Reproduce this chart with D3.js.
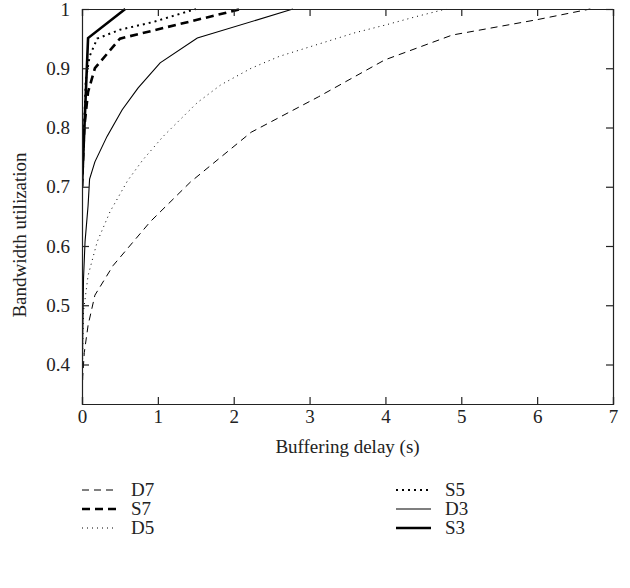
<!DOCTYPE html>
<html>
<head>
<meta charset="utf-8">
<script src="https://cdn.jsdelivr.net/npm/d3@7"></script>
<style>
  html, body { margin: 0; padding: 0; background: #fff; }
  svg { display: block; }
  text { font-family: "Liberation Serif", "DejaVu Serif", serif; fill: #222; }
</style>
</head>
<body>
<svg id="chart" width="630" height="588"></svg>
<script>
// Bandwidth utilization versus buffering delay, one curve per scheme.
const seriesNames = ["D7", "S7", "D5", "S5", "D3", "S3"];

const D7 = [[0, 0.3333], [0.01, 0.38], [0.03, 0.42], [0.08, 0.466], [0.17, 0.517], [0.41, 0.567],
            [0.9, 0.641], [1.43, 0.708], [2.23, 0.792], [3.12, 0.852], [3.99, 0.914],
            [4.88, 0.956], [6.0, 0.982], [6.7, 1.0]];
const S7 = [[0, 0.7], [0.03, 0.8], [0.08, 0.86], [0.17, 0.9], [0.5, 0.95], [2.1, 1.0]];
const D5 = [[0, 0.3333], [0.01, 0.43], [0.02, 0.49], [0.08, 0.55], [0.2, 0.607], [0.37, 0.658],
            [0.6, 0.71], [0.8, 0.745], [1.07, 0.785], [1.52, 0.842], [1.83, 0.872], [2.23, 0.9],
            [2.6, 0.92], [3.1, 0.94], [3.6, 0.96], [4.0, 0.973], [4.4, 0.987], [4.8, 1.0]];
const S5 = [[0, 0.7], [0.05, 0.88], [0.1, 0.92], [0.2, 0.95], [0.5, 0.965], [0.94, 0.978], [1.5, 1.0]];
const D3 = [[0, 0.3333], [0.01, 0.45], [0.02, 0.545], [0.04, 0.607], [0.08, 0.668], [0.1, 0.713],
            [0.17, 0.742], [0.33, 0.785], [0.53, 0.83], [0.74, 0.867], [1.03, 0.909],
            [1.52, 0.951], [2.78, 1.0]];
const S3 = [[0, 0.7], [0.08, 0.951], [0.57, 1.0]];

const xTicks = [0, 1, 2, 3, 4, 5, 6, 7];
const yTicks = [0.4, 0.5, 0.6, 0.7, 0.8, 0.9, 1];
const yMin = 1 / 3;

const seriesData = { D7, S7, D5, S5, D3, S3 };

// stroke style per scheme: width and dash pattern
const styles = {
  D7: { w: 1, dash: "7,5" },
  S7: { w: 2.6, dash: "8,5" },
  D5: { w: 1, dash: "1,4" },
  S5: { w: 2, dash: "2,4" },
  D3: { w: 1.1, dash: null },
  S3: { w: 2.6, dash: null }
};

const W = 630, H = 588;
const plot = { left: 82, right: 613, top: 9, bottom: 404 };
const svg = d3.select("#chart");

const x = d3.scaleLinear().domain([0, 7]).range([plot.left, plot.right]);
const y = d3.scaleLinear().domain([yMin, 1]).range([plot.bottom, plot.top]);

svg.append("defs").append("clipPath").attr("id", "plot")
  .append("rect")
  .attr("x", x(0)).attr("y", y(1) - 2)
  .attr("width", x(7) - x(0)).attr("height", y(yMin) - y(1) + 2);

const line = d3.line().x(d => x(d[0])).y(d => y(d[1]));

// curves
const g = svg.append("g").attr("clip-path", "url(#plot)");
seriesNames.forEach(name => {
  const st = styles[name];
  g.append("path")
    .datum(seriesData[name])
    .attr("d", line)
    .attr("fill", "none")
    .attr("stroke", "#000")
    .attr("stroke-width", st.w)
    .attr("stroke-dasharray", st.dash)
    .attr("stroke-linejoin", "miter");
});

// axes with inward ticks on all four sides
const tickLen = 7;
const fontSize = 19;
const fmtY = d => d === 1 ? "1" : d3.format(".1f")(d);
const axB = svg.append("g").attr("transform", `translate(0,${y(yMin)})`)
  .call(d3.axisBottom(x).tickValues(xTicks).tickSize(-tickLen).tickPadding(6).tickFormat(d3.format("d")));
const axT = svg.append("g").attr("transform", `translate(0,${y(1)})`)
  .call(d3.axisTop(x).tickValues(xTicks).tickSize(-tickLen).tickFormat(""));
const axL = svg.append("g").attr("transform", `translate(${x(0)},0)`)
  .call(d3.axisLeft(y).tickValues(yTicks).tickSize(-tickLen).tickPadding(12).tickFormat(fmtY));
const axR = svg.append("g").attr("transform", `translate(${x(7)},0)`)
  .call(d3.axisRight(y).tickValues(yTicks).tickSize(-tickLen).tickFormat(""));

[axB, axT, axL, axR].forEach(a => {
  a.select(".domain").attr("stroke", "#222").attr("stroke-width", 1.2);
  a.selectAll(".tick line").attr("stroke", "#222").attr("stroke-width", 1.2);
  a.selectAll(".tick text").attr("font-size", fontSize).attr("font-family", "Liberation Serif").attr("fill", "#222");
});

// axis titles
svg.append("text")
  .attr("x", (x(0) + x(7)) / 2).attr("y", 453)
  .attr("text-anchor", "middle").attr("font-size", fontSize)
  .text("Buffering delay (s)");
svg.append("text")
  .attr("transform", `translate(26,235) rotate(-90)`)
  .attr("text-anchor", "middle").attr("font-size", fontSize)
  .text("Bandwidth utilization");

// legend in two columns
const legendCols = [["D7", "S7", "D5"], ["S5", "D3", "S3"]];
const colX = [82, 396];
const rowY = [490, 509, 528];
legendCols.forEach((col, ci) => {
  col.forEach((name, ri) => {
    const st = styles[name];
    const gy = rowY[ri];
    svg.append("line")
      .attr("x1", colX[ci]).attr("x2", colX[ci] + 35)
      .attr("y1", gy).attr("y2", gy)
      .attr("stroke", "#000").attr("stroke-width", st.w)
      .attr("stroke-dasharray", st.dash);
    svg.append("text")
      .attr("x", colX[ci] + 49).attr("y", gy + 6)
      .attr("font-size", fontSize)
      .text(name);
  });
});
</script>
</body>
</html>
